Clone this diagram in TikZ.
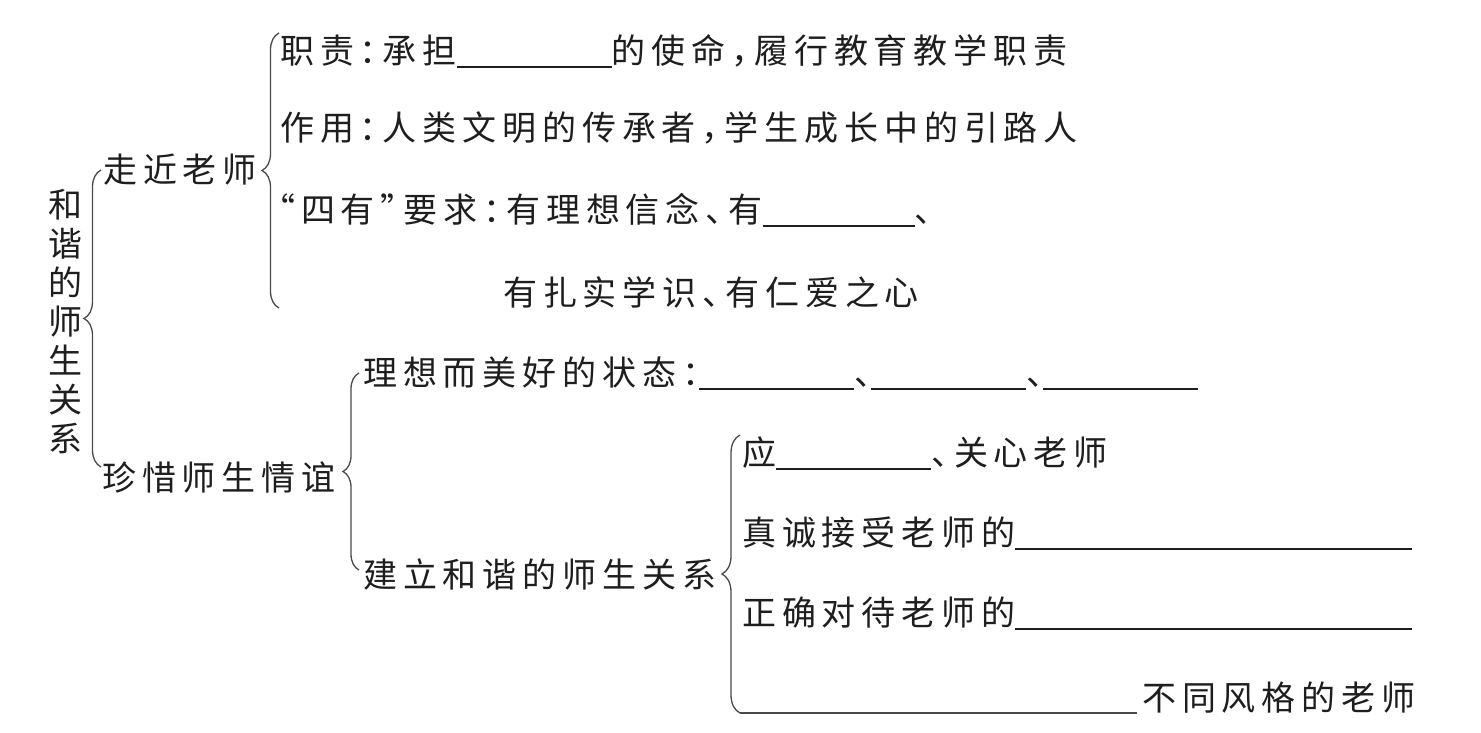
\documentclass[tikz,border=0pt]{standalone}
\usepackage{fontspec}
\setmainfont{Noto Sans CJK SC}[LetterSpace=17.3,CharacterWidth=AlternateHalf]
\usetikzlibrary{decorations.pathreplacing}
\definecolor{ink}{HTML}{1E1E1E}
\definecolor{lineC}{HTML}{4A4A4A}
\newcommand\blank[1]{\rule[-4.6pt]{#1pt}{1.4pt}}
\begin{document}
\begin{tikzpicture}[x=1pt,y=-1pt,
  font=\fontsize{34}{39}\selectfont,
  txt/.style={anchor=west,inner sep=0pt,text=ink},
  br/.style={draw=lineC,line width=1.3pt,decorate,decoration={brace,amplitude=#1}},
  ln/.style={draw=lineC,line width=1.3pt}]
\useasboundingbox (0,0) rectangle (1481,733);
% root
\node[anchor=center,inner sep=0pt,text=ink,align=center] (root) at (65.5,322) {和\\谐\\的\\师\\生\\关\\系};
% level 1
\node[txt] (zj) at (103,170) {走近老师};
\node[txt] (zx) at (102,477) {珍惜师生情谊};
% 走近老师 branch
\node[txt] (zz) at (280,51) {职责：承担\blank{155}的使命，履行教育教学职责};
\node[txt] (zy) at (280,128) {作用：人类文明的传承者，学生成长中的引路人};
\node[txt] (sy) at (278,210) {“四有”要求：有理想信念、有\blank{152}、};
\node[txt] (sy2) at (503,292) {有扎实学识、有仁爱之心};
% 珍惜师生情谊 branch
\node[txt] (lx) at (363,373) {理想而美好的状态：\blank{155}、\blank{155}、\blank{155}};
\node[txt] (jl) at (363,575) {建立和谐的师生关系};
\node[txt] (r1) at (742,453) {应\blank{155}、关心老师};
\node[txt] (r2) at (742,533) {真诚接受老师的\blank{397}};
\node[txt] (r3) at (742,613) {正确对待老师的\blank{397}};
\node[txt] (r4) at (1142,698) {不同风格的老师};
% brace coordinates
\coordinate (b0t) at (101,170);
\coordinate (b0b) at (101,467);
\coordinate (b1t) at (279,33);
\coordinate (b1b) at (279,308);
\coordinate (b2t) at (359,373);
\coordinate (b2b) at (359,570);
\coordinate (b3t) at (740,435);
\coordinate (b3b) at (740,713);
\coordinate (b3e) at (1137,713);
% braces
\draw[br=17pt] (b0b) -- (b0t);
\draw[br=17pt] (b1b) -- (b1t);
\draw[br=16pt] (b2b) -- (b2t);
\draw[br=18pt] (b3b) -- (b3t);
\draw[ln] (b3b) -- (b3e);
\end{tikzpicture}
\end{document}
